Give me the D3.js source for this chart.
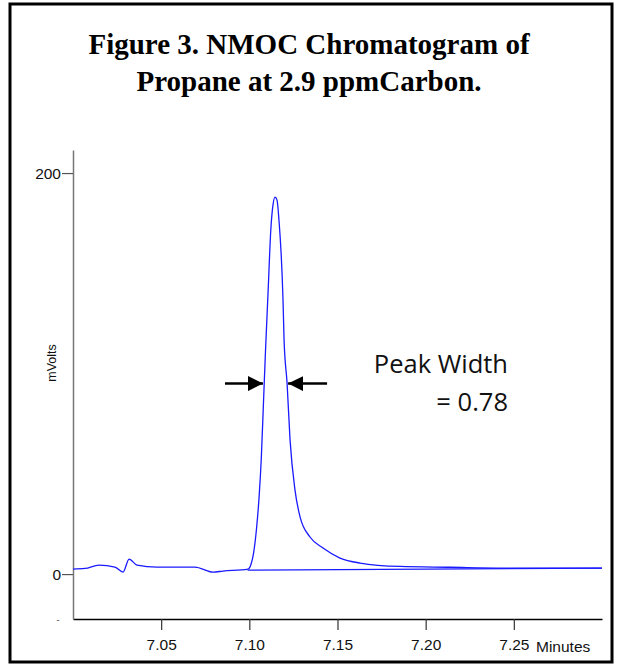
<!DOCTYPE html>
<html>
<head>
<meta charset="utf-8">
<script src="https://cdn.jsdelivr.net/npm/d3@7"></script>
<style>
  body { margin: 0; background: #fff; }
  #chart { width: 620px; height: 668px; }
</style>
</head>
<body>
<div id="chart"></div>
<script>

// chromatogram trace (minutes, mV)
let traceTime = [7.000, 7.0068, 7.0147, 7.0238, 7.0284, 7.0318, 7.0363, 7.0476, 7.0692, 7.0794, 7.0851, 7.0993,
	7.1010, 7.1025, 7.1040, 7.1055, 7.1068, 7.1080, 7.1092, 7.1106, 7.1122, 7.1134, 7.1146,
	7.1157, 7.1168, 7.1191, 7.1197, 7.1214, 7.1231, 7.1259, 7.1288, 7.1344, 7.1418, 7.1514, 7.1628,
	7.1855, 7.2138, 7.2445, 7.300];
let traceMv = [2.5, 2.8, 4.5, 3.5, 1.0, 7.5, 4.5, 3.5, 3.5, 1.0, 1.5, 2.5,
	5.0, 11.0, 22.0, 38.0, 58.0, 85.0, 112.0, 140.0, 172.0, 184.0, 188.0,
	186.5, 176.6, 136.7, 116.7, 95.3, 66.8, 41.9, 28.4, 18.5, 13.0, 8.0, 5.5,
	3.8, 3.4, 3.0, 3.0];

// drawn baseline under the peak
let baseTime = [7.099, 7.300];
let baseMv = [2.0, 3.0];

// axes
let xTicks = [7.05, 7.10, 7.15, 7.20, 7.25];
let yTicks = [200, 0];
let xDomain = [7.00, 7.30];
let yDomain = [-22.4, 211.5];

// peak width markers (half height)
let halfHeight = 95;
let widthEdges = [7.1083, 7.1214];
let widthText = ["Peak Width", "= 0.78"];

let titleLines = ["Figure 3. NMOC Chromatogram of", "Propane at 2.9 ppmCarbon."];

let svg = d3.select("#chart").append("svg")
	.attr("width", 620)
	.attr("height", 668);

// outer frame
svg.append("rect")
	.attr("x", 10).attr("y", 4)
	.attr("width", 602).attr("height", 658)
	.attr("fill", "none")
	.attr("stroke", "#000")
	.attr("stroke-width", 3);

// title
svg.selectAll(".title")
	.data(titleLines)
	.enter().append("text")
	.attr("class", "title")
	.attr("x", 309)
	.attr("y", (d, i) => 54 + i * 37)
	.attr("text-anchor", "middle")
	.style("font-family", "'Liberation Serif', 'Times New Roman', serif")
	.style("font-weight", "bold")
	.style("font-size", "29px")
	.text(d => d);

let x = d3.scaleLinear().domain(xDomain).range([73, 602]);
let y = d3.scaleLinear().domain(yDomain).range([619, 150]);

let tickFont = "'Liberation Sans', Arial, sans-serif";

// x axis
let xAxis = d3.axisBottom(x)
	.tickValues(xTicks)
	.tickFormat(d3.format(".2f"))
	.tickSizeInner(11)
	.tickSizeOuter(0)
	.tickPadding(9);

let gx = svg.append("g")
	.attr("transform", "translate(0," + y(yDomain[0]) + ")")
	.call(xAxis);
gx.select(".domain").attr("stroke", "#000").attr("stroke-width", 1.5);
gx.selectAll(".tick line").attr("stroke", "#333").attr("stroke-width", 1.2);
gx.selectAll(".tick text")
	.style("font-family", tickFont)
	.style("font-size", "15.5px")
	.attr("fill", "#111");

svg.append("text")
	.attr("x", 536)
	.attr("y", 652)
	.style("font-family", tickFont)
	.style("font-size", "15.5px")
	.attr("fill", "#111")
	.text("Minutes");

// y axis
let yAxis = d3.axisLeft(y)
	.tickValues(yTicks)
	.tickFormat(d3.format("d"))
	.tickSizeInner(11)
	.tickSizeOuter(0)
	.tickPadding(1);

let gy = svg.append("g")
	.attr("transform", "translate(" + x(xDomain[0]) + ",0)")
	.call(yAxis);
gy.select(".domain").attr("stroke", "#777").attr("stroke-width", 1.5);
gy.selectAll(".tick line").attr("stroke", "#555").attr("stroke-width", 1.2);
gy.selectAll(".tick text")
	.style("font-family", tickFont)
	.style("font-size", "15.5px")
	.attr("fill", "#111");

// the lone dash label at the bottom of the y axis
svg.append("text")
	.attr("x", 58)
	.attr("y", y(yDomain[0]) + 4)
	.attr("text-anchor", "middle")
	.style("font-family", tickFont)
	.style("font-size", "9px")
	.attr("fill", "#333")
	.text("-");

svg.append("text")
	.attr("transform", "translate(56,363) rotate(-90)")
	.attr("text-anchor", "middle")
	.style("font-family", tickFont)
	.style("font-size", "12.5px")
	.attr("fill", "#111")
	.text("mVolts");

// trace
let trace = traceTime.map((t, i) => ({t: t, v: traceMv[i]}));
let base = baseTime.map((t, i) => ({t: t, v: baseMv[i]}));

let line = d3.line()
	.curve(d3.curveMonotoneX)
	.x(d => x(d.t))
	.y(d => y(d.v));

svg.append("path")
	.datum(base)
	.attr("d", d3.line().x(d => x(d.t)).y(d => y(d.v)))
	.attr("fill", "none")
	.attr("stroke", "#1a1aff")
	.attr("stroke-width", 1.3);

svg.append("path")
	.datum(trace)
	.attr("d", line)
	.attr("fill", "none")
	.attr("stroke", "#1a1aff")
	.attr("stroke-width", 1.3);

// arrows
let defs = svg.append("defs");
defs.append("marker")
	.attr("id", "head")
	.attr("viewBox", "0 0 16 16")
	.attr("refX", 16).attr("refY", 8)
	.attr("markerWidth", 15).attr("markerHeight", 15)
	.attr("markerUnits", "userSpaceOnUse")
	.attr("orient", "auto")
	.append("path")
	.attr("d", "M0,0 L16,8 L0,16 Z")
	.attr("fill", "#000");

let ay = y(halfHeight);
svg.append("line")
	.attr("x1", x(widthEdges[0]) - 39).attr("x2", x(widthEdges[0]) - 1)
	.attr("y1", ay).attr("y2", ay)
	.attr("stroke", "#000").attr("stroke-width", 2.5)
	.attr("marker-end", "url(#head)");
svg.append("line")
	.attr("x1", x(widthEdges[1]) + 40).attr("x2", x(widthEdges[1]) + 1)
	.attr("y1", ay).attr("y2", ay)
	.attr("stroke", "#000").attr("stroke-width", 2.5)
	.attr("marker-end", "url(#head)");

svg.selectAll(".note")
	.data(widthText)
	.enter().append("text")
	.attr("class", "note")
	.attr("x", 508)
	.attr("y", (d, i) => 373 + i * 38)
	.attr("text-anchor", "end")
	.style("font-family", "'Open Sans', 'Noto Sans', sans-serif")
	.style("font-size", "25.5px")
	.attr("fill", "#111")
	.text(d => d);

</script>
</body>
</html>
